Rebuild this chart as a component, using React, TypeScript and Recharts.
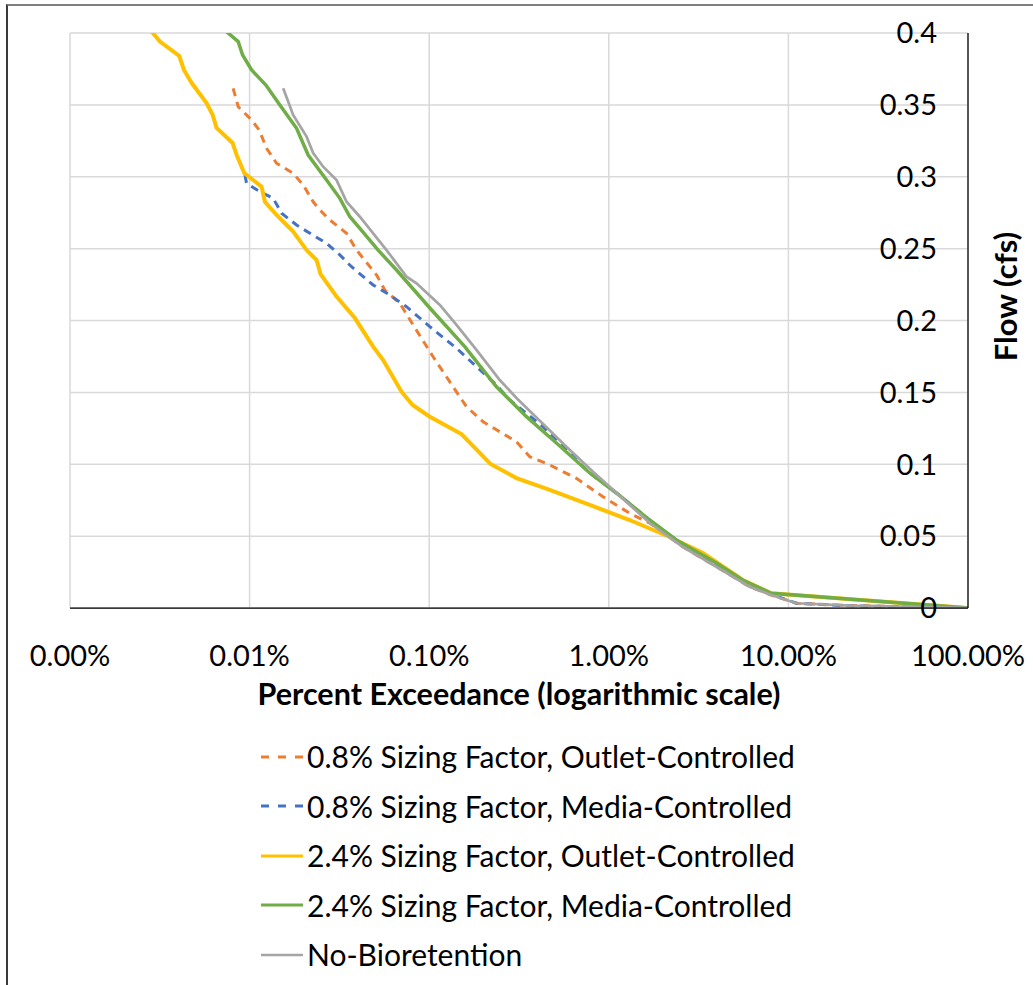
import { LineChart, Line, XAxis, YAxis, CartesianGrid, Legend } from "recharts";

// [percent exceedance (%), flow (cfs)]
const outlet08: [number, number][] = [
  [0.0081, 0.3615], [0.00864, 0.3487], [0.01026, 0.3395], [0.01131, 0.3325],
  [0.01243, 0.3198], [0.01413, 0.3094], [0.01748, 0.3024], [0.01988, 0.2943],
  [0.02259, 0.2826], [0.02462, 0.2769], [0.02799, 0.2699], [0.03466, 0.2607],
  [0.0394, 0.249], [0.0509, 0.2317], [0.0566, 0.2212], [0.0686, 0.212],
  [0.0814, 0.1969], [0.1051, 0.1748], [0.1358, 0.1539], [0.1613, 0.14],
  [0.1995, 0.1296], [0.2471, 0.1226], [0.3061, 0.1157], [0.3629, 0.1053],
  [0.469, 0.0995], [0.66, 0.0902], [0.928, 0.0774], [1.307, 0.0659],
  [1.689, 0.0591], [2.577, 0.0426], [3.97, 0.0287], [6.08, 0.0148],
  [8.03, 0.009], [11.07, 0.0033], [21.9, 0.0017], [100, 0],
];

const media08: [number, number][] = [
  [0.00942, 0.3012], [0.00962, 0.2954], [0.01141, 0.2896], [0.01353, 0.285],
  [0.01507, 0.2746], [0.01826, 0.2664], [0.02166, 0.2607], [0.02682, 0.2537],
  [0.03181, 0.2456], [0.03695, 0.2374], [0.04873, 0.2247], [0.06037, 0.2177],
  [0.07475, 0.2096], [0.1008, 0.1957], [0.1419, 0.1807], [0.1833, 0.1679],
  [0.2369, 0.1551], [0.2809, 0.1447], [0.4304, 0.1261], [0.606, 0.1076],
  [0.783, 0.0939], [1.102, 0.08], [1.689, 0.0612], [2.378, 0.0473],
  [3.97, 0.0305], [5.56, 0.019], [8.03, 0.0095], [11.07, 0.0033],
  [21.9, 0.0015], [100, 0],
];

const outlet24: [number, number][] = [
  [0.00252, 0.409], [0.00317, 0.394], [0.00406, 0.384], [0.00431, 0.3743],
  [0.00476, 0.3652], [0.00576, 0.3513], [0.00623, 0.343], [0.00655, 0.3339],
  [0.00804, 0.3235], [0.00847, 0.3151], [0.00933, 0.3026], [0.01166, 0.2931],
  [0.01217, 0.2826], [0.01413, 0.2734], [0.01748, 0.2618], [0.02076, 0.249],
  [0.0236, 0.2421], [0.02484, 0.2323], [0.03049, 0.2166], [0.03855, 0.2017],
  [0.04873, 0.1818], [0.0554, 0.1725], [0.0701, 0.1505], [0.0808, 0.1412],
  [0.1008, 0.1331], [0.1512, 0.121], [0.2193, 0.1002], [0.3061, 0.0904],
  [0.469, 0.0821], [0.783, 0.0717], [1.307, 0.0612], [2.183, 0.0494],
  [3.344, 0.0383], [5.58, 0.0195], [8.03, 0.0102], [100, 0],
];

const media24: [number, number][] = [
  [0.00625, 0.409], [0.00864, 0.394], [0.00914, 0.3847], [0.01026, 0.3743],
  [0.01232, 0.3638], [0.01474, 0.3499], [0.01826, 0.3337], [0.02119, 0.3151],
  [0.02682, 0.2977], [0.03181, 0.285], [0.03616, 0.2722], [0.0411, 0.2641],
  [0.05195, 0.249], [0.06577, 0.2351], [0.1008, 0.2087], [0.1578, 0.1818],
  [0.2369, 0.1539], [0.3479, 0.1331], [0.5109, 0.1148], [0.783, 0.0939],
  [1.102, 0.08], [1.689, 0.0612], [2.378, 0.0473], [3.97, 0.0313],
  [5.56, 0.0195], [8.03, 0.0102], [100, 0],
];

const noBio: [number, number][] = [
  [0.01538, 0.3615], [0.01748, 0.343], [0.02076, 0.3279], [0.02259, 0.3165],
  [0.02568, 0.307], [0.03049, 0.2977], [0.03466, 0.2826], [0.0411, 0.2722],
  [0.05786, 0.249], [0.07475, 0.2305], [0.085, 0.2259], [0.1146, 0.2108],
  [0.1419, 0.1969], [0.1833, 0.1795], [0.2471, 0.1586], [0.3061, 0.1461],
  [0.5808, 0.1122], [0.8168, 0.0948], [1.012, 0.0844], [1.689, 0.0591],
  [2.577, 0.0426], [3.97, 0.0287], [6.08, 0.0148], [8.03, 0.009],
  [11.07, 0.0033], [21.9, 0.0017], [100, 0],
];

const xTicks = [0.001, 0.01, 0.1, 1, 10, 100];
const yTicks = [0, 0.05, 0.1, 0.15, 0.2, 0.25, 0.3, 0.35, 0.4];

const series = [
  { key: "outlet08", name: "0.8% Sizing Factor, Outlet-Controlled", points: outlet08, color: "#ED7D31", width: 3, dash: "8 6" },
  { key: "media08", name: "0.8% Sizing Factor, Media-Controlled", points: media08, color: "#4472C4", width: 3, dash: "8 6" },
  { key: "outlet24", name: "2.4% Sizing Factor, Outlet-Controlled", points: outlet24, color: "#FFC000", width: 4, dash: undefined },
  { key: "media24", name: "2.4% Sizing Factor, Media-Controlled", points: media24, color: "#70AD47", width: 3.5, dash: undefined },
  { key: "noBio", name: "No-Bioretention", points: noBio, color: "#A5A5A5", width: 2.75, dash: undefined },
];

const FONT = "Lato, 'Open Sans', sans-serif";

const renderLegend = () => (
  <div style={{ display: "flex", flexDirection: "column", fontFamily: FONT }}>
    {series.map((s) => (
      <div key={s.key} style={{ display: "flex", alignItems: "center", height: 49.5 }}>
        <svg width={42} height={10}>
          <line
            x1={0}
            y1={5}
            x2={42}
            y2={5}
            stroke={s.color}
            strokeWidth={s.key === "noBio" ? 2.5 : 3}
            strokeDasharray={s.dash ? "8 9" : undefined}
          />
        </svg>
        <span style={{ marginLeft: 4, fontSize: 30, color: "#000", lineHeight: "31px" }}>{s.name}</span>
      </div>
    ))}
  </div>
);

const FlowTitle = (props: any) => {
  const vb = props.viewBox || {};
  const x = vb.x + vb.width + 37;
  const y = vb.y + vb.height / 2 - 24;
  return (
    <text
      x={x}
      y={y}
      transform={`rotate(-90 ${x} ${y})`}
      textAnchor="middle"
      dominantBaseline="central"
      fontSize={31}
      fontWeight="bold"
      fill="#000"
    >
      Flow (cfs)
    </text>
  );
};

export default function App() {
  return (
    <div style={{ position: "relative", width: 1033, height: 985, background: "#fff", overflow: "hidden", fontFamily: FONT }}>
      <style>{"body{margin:0}"}</style>
      <LineChart width={1033} height={985} margin={{ top: 33, right: 65, bottom: 267, left: 70 }}>
        <CartesianGrid stroke="#D9D9D9" strokeWidth={1.5} />
        <XAxis
          type="number"
          dataKey="p"
          scale="log"
          domain={[0.001, 100]}
          ticks={xTicks}
          allowDataOverflow
          height={110}
          tickLine={false}
          tickMargin={31}
          axisLine={{ stroke: "#000", strokeWidth: 1.25 }}
          tick={{ fontSize: 29, fill: "#000" }}
          tickFormatter={(v: number) => `${v.toFixed(2)}%`}
          label={{
            value: "Percent Exceedance (logarithmic scale)",
            position: "insideBottom",
            offset: 13,
            style: { fontSize: 30.5, fontWeight: "bold", fill: "#000" },
          }}
        />
        <YAxis
          type="number"
          orientation="right"
          mirror
          width={60}
          domain={[0, 0.4]}
          ticks={yTicks}
          allowDataOverflow
          tickLine={false}
          tickMargin={25}
          axisLine={{ stroke: "#000", strokeWidth: 1.25 }}
          tick={{ fontSize: 29, fill: "#000" }}
          tickFormatter={(v: number) => String(Number(v.toFixed(2)))}
          label={FlowTitle}
        />
        <Legend
          layout="horizontal"
          verticalAlign="middle"
          align="center"
          content={renderLegend}
          wrapperStyle={{ top: 732, left: 261, width: 620 }}
        />
        {series.map((s) => (
          <Line
            key={s.key}
            name={s.name}
            data={s.points.map(([p, q]) => ({ p, q }))}
            dataKey="q"
            type="linear"
            stroke={s.color}
            strokeWidth={s.width}
            strokeDasharray={s.dash}
            dot={false}
            activeDot={false}
            isAnimationActive={false}
          />
        ))}
      </LineChart>
      <div
        style={{
          position: "absolute",
          left: 6,
          top: 4,
          width: 1040,
          height: 1000,
          borderTop: "2px solid #7F7F7F",
          borderLeft: "2px solid #3A3A3A",
          pointerEvents: "none",
        }}
      />
    </div>
  );
}
